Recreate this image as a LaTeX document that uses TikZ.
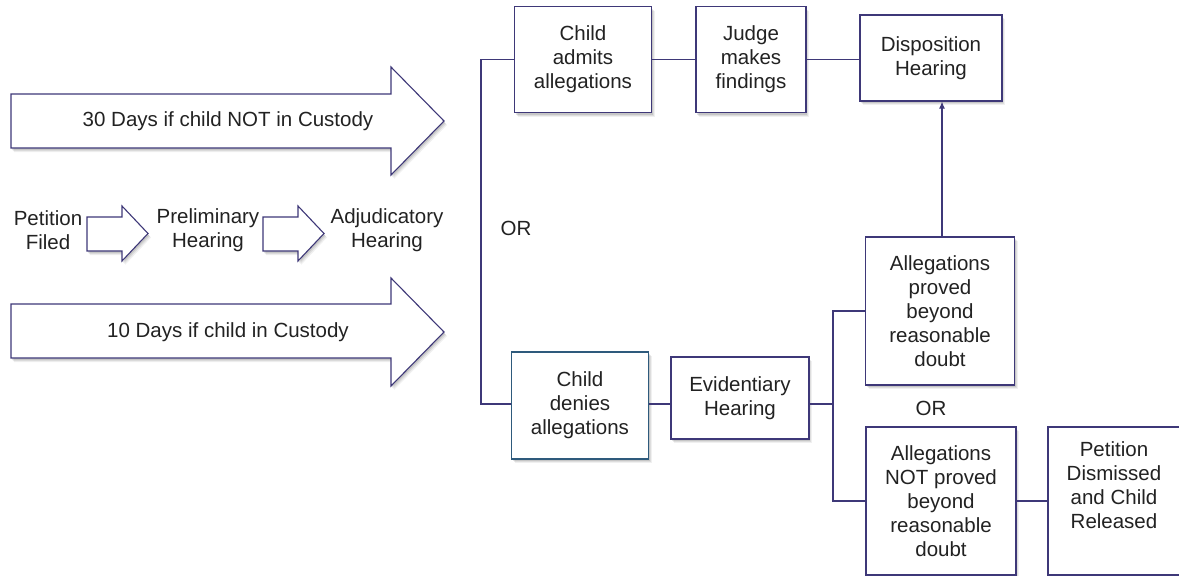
\documentclass[tikz,border=0pt]{standalone}
\usepackage{fontspec}
\setmainfont{Liberation Sans}
\usetikzlibrary{shadows,arrows.meta}
\definecolor{edge}{HTML}{3E3878}
\definecolor{edgeblue}{HTML}{2E5A7C}
\definecolor{ink}{HTML}{222222}
\tikzset{
  shd/.style={
    drop shadow={shadow xshift=3pt,shadow yshift=-4pt,opacity=0.06,fill=black},
    drop shadow={shadow xshift=2pt,shadow yshift=-3pt,opacity=0.08,fill=black},
    drop shadow={shadow xshift=1pt,shadow yshift=-2pt,opacity=0.10,fill=black}},
  box/.style={draw=edge,line width=1.1pt,fill=white,shd,rectangle,align=center,text=ink,
    font=\fontsize{20.5}{24}\selectfont,inner sep=0pt},
  txt/.style={align=center,text=ink,font=\fontsize{20.5}{24}\selectfont,inner sep=0pt},
  bigarrow/.style={draw=edge,line width=1.1pt,fill=white,shd,line join=miter},
  conn/.style={draw=edge,line width=1.1pt},
}
\begin{document}
\begin{tikzpicture}[x=1pt,y=-1pt]
\useasboundingbox (0,0) rectangle (1179,576);
\clip (0,0) rectangle (1179,576);
\fill[white] (0,0) rectangle (1179,576);

% big arrows
\path[bigarrow] (11,94) -- (391,94) -- (391,67) -- (444,121) -- (391,175) -- (391,148) -- (11,148) -- cycle;
\node[txt] (t30) at (228,121) {30 Days if child NOT in Custody};
\path[bigarrow] (11,304) -- (391,304) -- (391,278) -- (444,332) -- (391,386) -- (391,358) -- (11,358) -- cycle;
\node[txt] (t10) at (228,332) {10 Days if child in Custody};

% small arrows
\path[bigarrow] (87,217) -- (122,217) -- (122,206) -- (148,233.5) -- (122,261) -- (122,251) -- (87,251) -- cycle;
\path[bigarrow] (263,217) -- (298,217) -- (298,206) -- (324,233.5) -- (298,261) -- (298,251) -- (263,251) -- cycle;
\node[txt] (pf) at (48,230) {Petition\\Filed};
\node[txt] (ph) at (208,230) {Preliminary\\Hearing};
\node[txt] (ah) at (387,230) {Adjudicatory\\Hearing};

\node[txt] (or1) at (516,228) {OR};
\node[txt] (or2) at (931,408) {OR};

% boxes
\node[box,minimum width=137pt,minimum height=106pt] (admit) at (583,59.5) {Child\\admits\\allegations};
\node[box,minimum width=110pt,minimum height=106pt] (judge) at (751,59.5) {Judge\\makes\\findings};
\node[box,minimum width=142pt,minimum height=86pt] (disp) at (931,58) {Disposition\\Hearing};
\node[box,draw=edgeblue,minimum width=137pt,minimum height=107pt] (denies) at (580,405.5) {Child\\denies\\allegations};
\node[box,minimum width=138pt,minimum height=82pt] (evid) at (740,398) {Evidentiary\\Hearing};
\node[box,minimum width=149pt,minimum height=148pt] (proved) at (940,311) {Allegations\\proved\\beyond\\reasonable\\doubt};
\node[box,minimum width=150pt,minimum height=148pt] (notproved) at (941,501) {Allegations\\NOT proved\\beyond\\reasonable\\doubt};
\node[box,minimum width=132pt,minimum height=148pt] (petdis) at (1114,501) {Petition\\Dismissed\\and Child\\Released\\\strut};

% connectors
\coordinate (bl) at (481,0);
\coordinate (br) at (833,0);
\draw[conn] (admit.west) -- (admit.west -| bl) -- (bl |- 0,404) -- (denies.west |- 0,404);
\draw[conn] (admit.east) -- (judge.west);
\draw[conn] (judge.east) -- (judge.east -| disp.west);
\draw[conn] (denies.east |- 0,404) -- (evid.west |- 0,404);
\draw[conn] (evid.east |- 0,404) -- (br |- 0,404);
\draw[conn] (proved.west) -- (proved.west -| br) -- (br |- notproved.west) -- (notproved.west);
\draw[conn] (notproved.east) -- (petdis.west);
\draw[conn,-{Latex[length=7pt,width=6pt]}] (proved.north -| 942,0) -- (disp.south -| 942,0);
\end{tikzpicture}
\end{document}
